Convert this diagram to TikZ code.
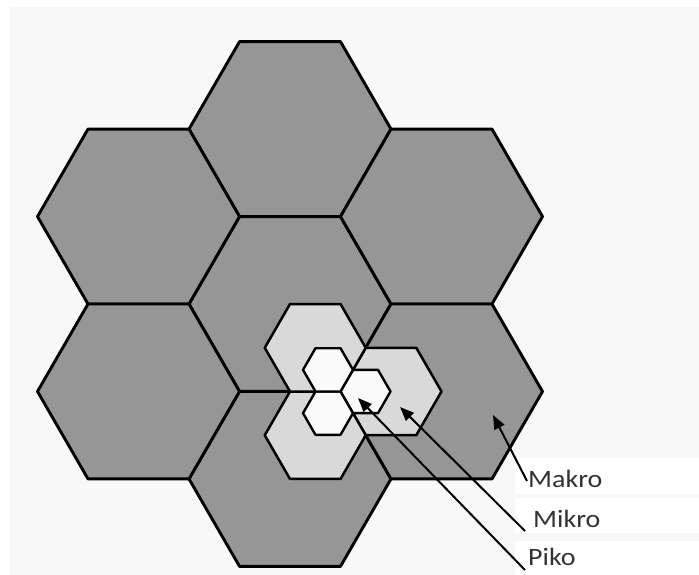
\documentclass[tikz,border=0pt]{standalone}
\usepackage{fontspec}
\setmainfont{Carlito}
\usepackage{graphicx}
\usetikzlibrary{arrows.meta,calc}
\definecolor{macrogray}{HTML}{969696}
\definecolor{microgray}{HTML}{D9D9D9}
\definecolor{picowhite}{HTML}{FAFAFA}
\definecolor{bgfill}{HTML}{F8F8F8}
\definecolor{labelgray}{HTML}{333333}
\tikzset{
  pics/hexagon/.style={code={\draw[pic actions] (0:#1) -- (60:#1) -- (120:#1) -- (180:#1) -- (240:#1) -- (300:#1) -- cycle;}},
  hexbase/.style={draw=black,line join=round},
  macrohex/.style={hexbase,fill=macrogray,line width=2.9pt},
  microhex/.style={hexbase,fill=microgray,line width=2.5pt},
  picohex/.style={hexbase,fill=picowhite,line width=2.4pt},
  arr/.style={draw=black,line width=2pt,-{Triangle[length=14pt,width=11pt]}},
  lbl/.style={inner sep=0pt,anchor=base west,text=labelgray,font=\fontsize{25}{29}\selectfont},
  band/.style={fill=white,draw=none}
}
\begin{document}
\begin{tikzpicture}[x=1pt,y=-1pt]
\useasboundingbox (0,0) rectangle (699,575);
% background
\fill[white] (0,0) rectangle (699,575);
\fill[bgfill] (10,7) rectangle (699,575);
\fill[band] (515,458) rectangle (699,494);
\fill[band] (515,498) rectangle (699,533);
\fill[band] (515,541) rectangle (699,575);
% macro cells
\coordinate (mc) at (290,304);
\pic (m0) [macrohex] at (mc) {hexagon=101};
\pic (m1) [macrohex] at ($(mc)+(0,-174.9)$) {hexagon=101};
\pic (m2) [macrohex] at ($(mc)+(0,174.9)$) {hexagon=101};
\pic (m3) [macrohex] at ($(mc)+(-151.5,-87.45)$) {hexagon=101};
\pic (m4) [macrohex] at ($(mc)+(-151.5,87.45)$) {hexagon=101};
\pic (m5) [macrohex] at ($(mc)+(151.5,-87.45)$) {hexagon=101};
\pic (m6) [macrohex] at ($(mc)+(151.5,87.45)$) {hexagon=101};
% common vertex
\coordinate (v) at (340.5,391.5);
% micro cells
\pic (u1) [microhex] at ($(v)+(0:50.5)$) {hexagon=50.5};
\pic (u2) [microhex] at ($(v)+(120:50.5)$) {hexagon=50.5};
\pic (u3) [microhex] at ($(v)+(240:50.5)$) {hexagon=50.5};
% pico cells
\pic (p1) [picohex] at ($(v)+(0:25)$) {hexagon=25};
\pic (p2) [picohex] at ($(v)+(120:25)$) {hexagon=25};
\pic (p3) [picohex] at ($(v)+(240:25)$) {hexagon=25};
% labels
\node[lbl] (lmakro) at (528,487) {\scalebox{1.12}[1]{Makro}};
\node[lbl] (lmikro) at (533,527) {\scalebox{1.12}[1]{Mikro}};
\node[lbl] (lpiko) at (528,565) {\scalebox{1.12}[1]{Piko}};
% arrow ends
\coordinate (tmakro) at (493,415);
\coordinate (tmikro) at (400,407);
\coordinate (tpiko) at (358,398);
\coordinate (smakro) at (527,481);
\coordinate (smikro) at (525,531);
\coordinate (spiko) at (525,570);
\draw[arr] (smakro) -- (tmakro);
\draw[arr] (smikro) -- (tmikro);
\draw[arr] (spiko) -- (tpiko);
\end{tikzpicture}
\end{document}
